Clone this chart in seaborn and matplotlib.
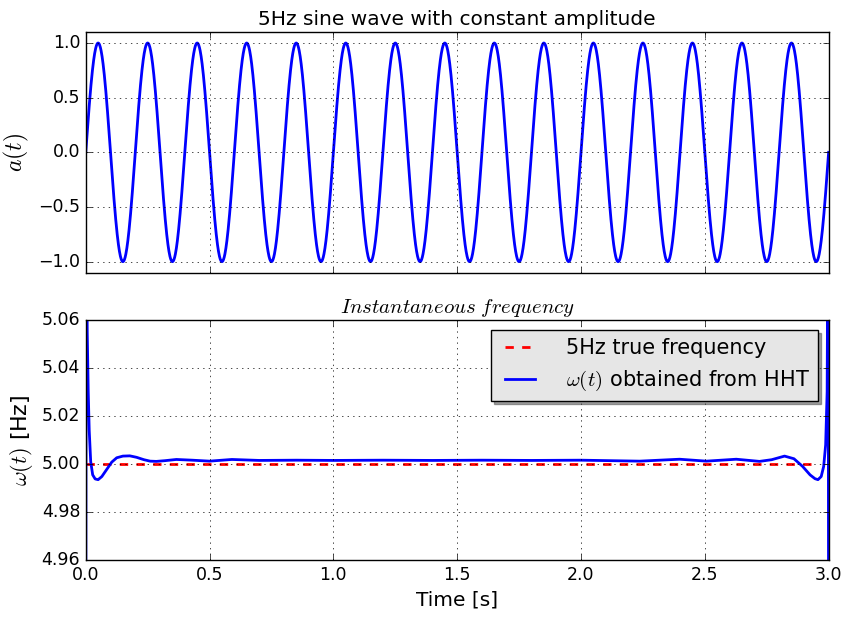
"""
5Hz sine wave and its HHT instantaneous frequency
"""

import numpy as np
import pandas as pd
import matplotlib
matplotlib.use('Agg')
import matplotlib.pyplot as plt
from matplotlib.ticker import FormatStrFormatter
import seaborn as sns

# signal parameters (from the title)
freq_hz = 5.0
amplitude = 1.0
duration = 3.0

# instantaneous frequency
if_time = [0.0, 0.002, 0.006, 0.010, 0.014, 0.020, 0.028, 0.038, 0.050, 0.065,
           0.085, 0.105, 0.125, 0.150, 0.178, 0.205, 0.235, 0.260, 0.285, 0.320,
           0.366, 0.430, 0.500, 0.590, 0.700, 0.850, 1.000, 1.200, 1.400, 1.600,
           1.800, 2.000, 2.237, 2.398, 2.506, 2.627, 2.721, 2.770, 2.822, 2.860,
           2.895, 2.925, 2.945, 2.957, 2.970, 2.980, 2.988, 2.994, 2.998, 3.0]
if_value = [4.90, 5.12, 5.055, 5.030, 5.014, 5.001, 4.9955, 4.9938, 4.9935, 4.9948,
            4.9978, 5.0008, 5.0026, 5.0033, 5.0034, 5.0028, 5.0018, 5.0012, 5.0011, 5.0014,
            5.0019, 5.0016, 5.0012, 5.0019, 5.0015, 5.0016, 5.0015, 5.0016, 5.0015, 5.0016,
            5.0015, 5.0016, 5.0012, 5.0020, 5.0012, 5.0020, 5.0011, 5.0018, 5.0033, 5.0022,
            4.9990, 4.9955, 4.9939, 4.9935, 4.9948, 4.9990, 5.008, 5.030, 5.12, 4.90]

true_freq = [5.0, 5.0]
true_time = [0.0, 2.94]

plt.style.use('classic')
plt.rcParams['figure.facecolor'] = 'white'
plt.rcParams['savefig.facecolor'] = 'white'

t = np.linspace(0, duration, 3001)
sine_df = pd.DataFrame({'t': t, 'a': amplitude * np.sin(2 * np.pi * freq_hz * t)})
if_df = pd.DataFrame({'t': if_time, 'w': if_value})
true_df = pd.DataFrame({'t': true_time, 'w': true_freq})

fig, (ax1, ax2) = plt.subplots(2, 1, figsize=(8.49, 6.17), dpi=100, sharex=True)
fig.subplots_adjust(left=0.101, right=0.976, top=0.948, bottom=0.092, hspace=0.196)

# 上图: 正弦波
sns.lineplot(data=sine_df, x='t', y='a', ax=ax1, color='blue', lw=2, sort=False)
ax1.set_xlim(0, 3)
ax1.set_ylim(-1.1, 1.1)
ax1.set_yticks([-1.0, -0.5, 0.0, 0.5, 1.0])
ax1.set_title('5Hz sine wave with constant amplitude', fontsize=14.5)
ax1.set_ylabel('$a(t)$', fontsize=17)
ax1.set_xlabel('')
ax1.grid(True)
plt.setp(ax1.get_xticklabels(), visible=False)

# 下图: 瞬时频率
sns.lineplot(data=true_df, x='t', y='w', ax=ax2, color='red', lw=2,
             linestyle='--', label='5Hz true frequency', sort=False)
sns.lineplot(data=if_df, x='t', y='w', ax=ax2, color='blue', lw=2,
             label=r'$\omega(t)$ obtained from HHT', sort=False)
ax2.set_xlim(0, 3)
ax2.set_ylim(4.96, 5.06)
ax2.set_xticks([0.0, 0.5, 1.0, 1.5, 2.0, 2.5, 3.0])
ax2.set_yticks([4.96, 4.98, 5.00, 5.02, 5.04, 5.06])
ax2.yaxis.set_major_formatter(FormatStrFormatter('%.2f'))
ax2.set_title(r'$Instantaneous\ frequency$', fontsize=15)
ax2.set_ylabel(r'$\omega(t)$ [Hz]', fontsize=16)
ax2.set_xlabel('Time [s]', fontsize=14.5)
ax2.grid(True)
leg = ax2.legend(loc='upper right', shadow=True, fontsize=15, framealpha=1,
                 handlelength=2.0, handletextpad=1.2)
leg.get_frame().set_facecolor('0.9')

for ax in (ax1, ax2):
    ax.tick_params(labelsize=12.5)

plt.savefig('out.png', dpi=100)
